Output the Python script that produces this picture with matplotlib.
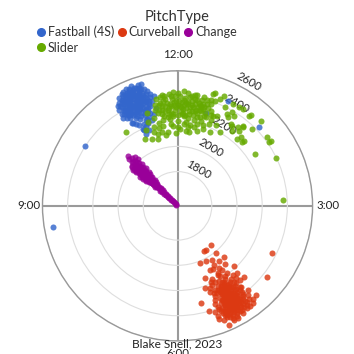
import numpy as np
import matplotlib
matplotlib.use("Agg")
import matplotlib.pyplot as plt
from matplotlib.lines import Line2D
from matplotlib.transforms import offset_copy

plt.rcParams['font.family'] = ['Lato', 'DejaVu Sans']

# ---------------- data (spin axis as clock hours, spin rate rpm) ----------------
pitch_types = ["Fastball (4S)", "Curveball", "Change", "Slider"]
pitch_colors = ["#3366cc", "#dc3912", "#990099", "#66aa00"]

ff_hour = [11.25, 11.10, 11.35, 11.20, 11.05, 11.40, 11.30, 11.15, 11.00, 11.45,
           11.28, 11.18, 11.38, 11.08, 11.22, 11.32, 11.12, 11.42, 11.02, 11.25,
           11.48, 10.97, 11.35, 11.20, 11.15, 11.30, 11.05, 11.50, 11.27, 11.12,
           11.40, 11.23, 10.95, 11.33, 11.45, 11.10, 11.18, 11.36, 11.28, 11.08,
           11.42, 11.20, 11.00, 11.52, 11.25, 11.15, 11.30, 11.45, 11.35, 11.05,
           11.22, 11.40, 11.12, 10.98, 11.55, 11.48, 11.32, 11.18, 11.27, 11.03,
           11.37, 11.13, 11.24, 11.44, 11.08, 11.30, 11.20, 11.50, 11.38, 11.16,
           11.33, 11.45, 11.28, 11.52, 11.40, 11.29, 10.93, 11.00, 11.58, 11.60,
           11.20, 11.34, 11.06, 11.26, 11.42, 11.14,
           11.03, 11.17, 11.31, 11.41, 11.11, 11.26, 11.36, 11.06, 11.21, 11.47,
           11.09, 11.23, 11.34, 11.19, 11.29, 11.39, 11.14, 11.04, 11.44, 11.27,
           11.16, 11.32, 11.12, 11.24, 11.37, 11.07, 11.47, 11.21, 11.01, 11.53,
           11.26, 11.18, 11.35, 11.10, 11.43, 11.29, 11.05, 11.33, 11.22, 11.39,
           11.15, 11.28, 11.48, 11.09, 11.36, 11.24, 11.42, 11.13, 11.31, 11.19,
           11.15, 11.25, 11.35, 11.20, 11.30, 11.10, 11.40, 11.05, 11.45, 11.22,
           10.10, 8.68, 1.53, 0.85, 0.57]
ff_spin = [2390, 2420, 2450, 2480, 2350, 2330, 2510, 2300, 2440, 2400,
           2360, 2450, 2480, 2480, 2420, 2420, 2380, 2360, 2400, 2530,
           2450, 2380, 2290, 2340, 2500, 2470, 2320, 2390, 2440, 2460,
           2510, 2370, 2420, 2380, 2430, 2350, 2400, 2350, 2320, 2440,
           2470, 2510, 2370, 2420, 2470, 2440, 2400, 2540, 2520, 2460,
           2280, 2300, 2330, 2450, 2380, 2350, 2460, 2360, 2500, 2430,
           2410, 2410, 2450, 2390, 2390, 2350, 2460, 2470, 2440, 2480,
           2250, 2240, 2210, 2280, 2540, 2550, 2350, 2330, 2320, 2420,
           2200, 2225, 2270, 2490, 2500, 2530,
           2390, 2430, 2440, 2420, 2500, 2410, 2470, 2410, 2390, 2410,
           2470, 2500, 2490, 2330, 2380, 2390, 2370, 2360, 2340, 2340,
           2420, 2530, 2520, 2360, 2330, 2340, 2490, 2540, 2470, 2440,
           2300, 2310, 2310, 2450, 2450, 2420, 2500, 2400, 2480, 2500,
           2460, 2480, 2370, 2360, 2430, 2520, 2320, 2390, 2370, 2470,
           2240, 2230, 2260, 2190, 2170, 2260, 2270, 2280, 2300, 2150,
           2400, 2530, 2424, 2450, 2300]

cu_hour = [5.00, 4.90, 5.10, 4.95, 5.05, 4.85, 5.15, 5.00, 4.92, 5.08,
           4.80, 5.20, 4.98, 5.12, 4.88, 5.03, 4.75, 5.25, 5.02, 4.96,
           5.06, 4.94, 5.10, 4.86, 5.18, 5.00, 4.82, 5.22, 5.04, 4.91,
           5.14, 4.99, 5.07, 4.78, 5.28, 5.02, 4.93, 5.16, 4.87, 5.09,
           4.97, 5.13, 4.84, 5.19, 4.72, 5.30, 5.05, 4.95, 5.01, 4.89,
           5.11, 5.24, 4.76, 5.32, 4.70, 5.00, 5.08, 4.92, 5.15, 4.83,
           5.21, 5.04, 4.97, 5.26, 4.80, 5.12, 4.90, 5.06, 4.74, 5.18,
           5.35, 4.68, 5.02, 4.95, 5.09, 4.88, 5.14, 4.99,
           5.01, 4.93, 5.07, 4.97, 5.03, 4.87, 5.13, 5.05, 4.91, 5.09,
           4.83, 5.17, 4.99, 5.11, 4.89, 5.04, 4.79, 5.23, 5.00, 4.95,
           5.08, 4.93, 5.12, 4.85, 5.16, 5.02, 4.81, 5.20, 5.06, 4.90,
           5.15, 4.98, 5.06, 4.77, 5.27, 5.03, 4.94, 5.14, 4.88, 5.10,
           4.96, 5.12, 4.86, 5.18, 4.96, 5.05, 4.92, 5.09, 5.00, 4.98,
           4.85, 4.95, 5.05, 5.15, 5.25, 4.78, 4.90, 5.00, 5.10, 5.20,
           4.88, 4.98, 5.08, 5.18, 4.82, 4.93, 5.03, 5.13, 5.28, 4.73,
           4.80, 5.12, 4.96, 5.22, 4.70, 5.15, 4.88, 5.02, 5.32, 4.66,
           5.23, 5.32, 4.74, 4.56, 5.38, 5.28, 3.89, 4.29, 4.63, 5.44, 5.55,
           4.64, 4.90, 4.98, 4.69, 4.59, 5.28, 5.09, 4.91, 4.77, 4.94,
           4.69, 4.56, 5.10, 4.84, 4.72, 5.30, 5.00, 4.85, 5.05, 4.95,
           5.20, 4.62, 4.80]
cu_spin = [2370, 2400, 2350, 2330, 2420, 2360, 2400, 2450, 2290, 2300,
           2410, 2370, 2500, 2470, 2460, 2260, 2340, 2430, 2400, 2380,
           2380, 2440, 2420, 2310, 2330, 2320, 2450, 2470, 2500, 2350,
           2360, 2410, 2450, 2380, 2390, 2340, 2480, 2500, 2420, 2280,
           2250, 2520, 2490, 2440, 2430, 2360, 2540, 2530, 2300, 2270,
           2310, 2300, 2300, 2460, 2480, 2480, 2340, 2390, 2450, 2330,
           2410, 2360, 2420, 2510, 2510, 2390, 2430, 2480, 2460, 2480,
           2420, 2400, 2440, 2360, 2400, 2380, 2430, 2460,
           2390, 2410, 2410, 2350, 2440, 2390, 2380, 2470, 2320, 2330,
           2430, 2420, 2460, 2500, 2490, 2290, 2360, 2450, 2420, 2360,
           2400, 2460, 2440, 2340, 2350, 2310, 2470, 2490, 2520, 2370,
           2380, 2430, 2460, 2400, 2410, 2350, 2500, 2480, 2440, 2300,
           2290, 2540, 2510, 2460, 2400, 2390, 2370, 2370, 2350, 2330,
           2260, 2240, 2250, 2270, 2280, 2280, 2220, 2230, 2240, 2260,
           2300, 2280, 2270, 2290, 2310, 2270, 2280, 2290, 2330, 2350,
           2190, 2200, 2150, 2210, 2260, 2170, 2120, 2100, 2260, 2300,
           2560, 2483, 2500, 2304, 2220, 2232, 2365, 2433, 2472, 2397, 2320,
           1939, 1947, 1946, 2014, 2080, 2018, 2024, 2040, 2079, 2083,
           2128, 2187, 2102, 2152, 2232, 2144, 2164, 2200, 2210, 2180,
           2190, 2240, 2250]

ch_hour = [10.45, 10.50, 10.40, 10.48, 10.55, 10.42, 10.38, 10.52, 10.46, 10.35,
           10.58, 10.44, 10.50, 10.40, 10.30, 10.55, 10.47, 10.36, 10.60, 10.43,
           10.52, 10.32, 10.48, 10.40, 10.57, 10.28, 10.45, 10.62, 10.36, 10.50,
           10.42, 10.55, 10.30, 10.47, 10.38, 10.60, 10.44, 10.33, 10.52, 10.40,
           10.56, 10.46, 10.35, 10.50, 10.42, 10.58, 10.38, 10.49,
           10.47, 10.62, 10.65, 10.49, 10.55,
           10.45, 10.50, 10.40, 10.48, 10.52, 10.44, 10.46, 10.41, 10.54, 10.49,
           10.43, 10.51, 10.39, 10.53, 10.45, 10.37, 10.57, 10.47, 10.34, 10.52,
           10.46, 10.42, 10.51, 10.39, 10.48, 10.44, 10.53, 10.41, 10.49, 10.37,
           10.55, 10.45, 10.40, 10.51, 10.44, 10.36, 10.54, 10.47, 10.42, 10.50,
           10.25, 10.68, 10.30, 10.65, 10.28, 10.60, 10.34, 10.55, 10.26, 10.66,
           10.32, 10.62, 10.36, 10.58, 10.40, 10.33, 10.63, 10.45, 10.38, 10.57]
ch_spin = [1560, 1580, 1600, 1620, 1640, 1650, 1670, 1680, 1700, 1710,
           1720, 1730, 1740, 1750, 1760, 1770, 1780, 1790, 1800, 1800,
           1810, 1820, 1830, 1840, 1840, 1850, 1850, 1860, 1870, 1870,
           1880, 1890, 1890, 1900, 1910, 1910, 1920, 1930, 1930, 1940,
           1950, 1960, 1960, 1980, 1990, 2000, 2010, 2020,
           2068, 2040, 2013, 2085, 2050,
           1540, 1545, 1570, 1590, 1610, 1630, 1660, 1690, 1700, 1715,
           1760, 1790, 1820, 1860, 1880, 1840, 1900, 1920, 1880, 1950,
           1650, 1720, 1760, 1780, 1810, 1830, 1850, 1860, 1880, 1900,
           1910, 1920, 1950, 1950, 1970, 1980, 1970, 1990, 1750, 1800,
           1900, 1920, 1950, 1960, 1980, 1990, 2000, 2020, 1870, 1880,
           1850, 1830, 1820, 1780, 1800, 1920, 1940, 2030, 1860, 1870]

sl_hour = [11.70, 11.80, 11.90, 0.00, 0.10, 0.20, 0.30, 0.40, 0.50, 11.75,
           11.85, 11.95, 0.05, 0.15, 0.25, 0.35, 0.45, 0.55, 11.65, 11.72,
           11.88, 0.02, 0.12, 0.22, 0.32, 0.42, 0.60, 11.60, 11.78, 11.92,
           0.08, 0.18, 0.28, 0.38, 0.48, 11.68, 11.82, 11.98, 0.14, 0.24,
           0.34, 0.44, 0.52, 11.55, 11.62, 11.76, 11.94, 0.06, 0.16, 0.26,
           0.36, 0.46, 0.58, 11.50, 11.58, 11.84, 0.00, 0.20, 0.30, 0.10,
           11.90, 11.70, 0.65, 0.70, 11.45, 11.40, 11.35, 11.42, 11.55, 11.65,
           11.76, 11.88, 0.05, 0.22, 0.40, 0.50, 0.62, 0.80, 1.00, 11.13,
           10.83, 11.25,
           11.73, 11.83, 11.93, 0.03, 0.13, 0.23, 0.33, 0.43, 0.53, 11.67,
           11.77, 11.87, 11.97, 0.07, 0.17, 0.27, 0.37, 0.47, 0.57, 11.63,
           11.79, 11.89, 0.01, 0.11, 0.21, 0.31, 0.41, 0.51, 11.71, 11.81,
           11.91, 0.04, 0.14, 0.24, 0.34, 0.44, 0.54, 11.74, 11.86, 11.96,
           0.09, 0.19, 0.29, 0.39, 0.49, 0.59, 11.69, 11.59, 0.66, 0.68,
           11.50, 11.70, 11.85, 0.00, 0.15, 0.30, 0.45, 11.60, 0.25, 11.95,
           0.58, 0.70, 0.85, 11.30, 11.45,
           0.62, 0.77, 0.96, 1.29, 1.48, 1.48, 1.32, 1.41, 1.75, 1.84,
           1.84, 1.87, 2.14, 2.89, 1.52, 1.25, 1.15, 0.99, 0.72, 0.59,
           0.86, 0.95, 1.01, 1.07, 1.06, 1.14, 1.30, 1.31, 1.31, 1.40,
           1.52, 0.73, 0.80, 1.10, 1.21]
sl_spin = [2400, 2350, 2380, 2330, 2300, 2360, 2320, 2280, 2340, 2290,
           2420, 2290, 2400, 2350, 2410, 2380, 2420, 2300, 2340, 2250,
           2320, 2250, 2270, 2230, 2260, 2350, 2380, 2280, 2380, 2430,
           2350, 2430, 2290, 2330, 2260, 2220, 2260, 2360, 2390, 2320,
           2420, 2390, 2230, 2310, 2390, 2330, 2330, 2310, 2250, 2370,
           2220, 2300, 2410, 2250, 2200, 2220, 2200, 2200, 2180, 2440,
           2260, 2300, 2330, 2260, 2180, 2300, 2230, 2140, 2160, 2170,
           2120, 2160, 2140, 2130, 2170, 2140, 2168, 2168, 2208, 2117,
           2240, 2180,
           2370, 2310, 2350, 2360, 2330, 2290, 2350, 2310, 2370, 2360,
           2410, 2270, 2310, 2280, 2310, 2340, 2300, 2360, 2340, 2300,
           2240, 2400, 2420, 2370, 2400, 2390, 2250, 2400, 2330, 2290,
           2240, 2320, 2240, 2260, 2290, 2340, 2270, 2420, 2340, 2400,
           2260, 2340, 2420, 2360, 2320, 2270, 2270, 2350, 2410, 2300,
           2120, 2100, 2180, 2150, 2180, 2120, 2200, 2130, 2160, 2110,
           2200, 2220, 2240, 2100, 2080,
           2472, 2476, 2450, 2440, 2470, 2378, 2340, 2272, 2421, 2428,
           2415, 2273, 2392, 2366, 2261, 2312, 2296, 2340, 2294, 2460,
           2400, 2357, 2390, 2367, 2448, 2458, 2453, 2344, 2293, 2239,
           2248, 2440, 2307, 2300, 2264]

r_ticks = [1800, 2000, 2200, 2400, 2600]
clock_labels = ["12:00", "3:00", "6:00", "9:00"]
clock_hours = [0, 3, 6, 9]
R_MIN, R_MAX = 1528, 2600

# ---------------- figure ----------------
fig = plt.figure(figsize=(3.54, 3.54), dpi=100)
ax = fig.add_axes([0.12, 0.037, 0.763, 0.763], projection='polar')
ax.set_theta_zero_location('N')
ax.set_theta_direction(-1)
ax.set_ylim(R_MIN, R_MAX)

def h2t(h):
    return np.deg2rad(np.asarray(h, dtype=float) * 30.0)

series = [(ff_hour, ff_spin), (cu_hour, cu_spin), (ch_hour, ch_spin), (sl_hour, sl_spin)]
for (hh, ss), col in zip(series, pitch_colors):
    ax.scatter(h2t(hh), ss, s=19, c=col, alpha=0.82, linewidths=0, zorder=3)

# radial grid
ax.set_yticks(r_ticks)
ax.set_yticklabels([])
ax.yaxis.grid(True, color='#dedede', lw=0.8)
for v in r_ticks:
    ax.text(np.deg2rad(30), v + 64, str(v), rotation=-30, rotation_mode='anchor',
            ha='center', va='center', fontsize=8.3, color='#222222', zorder=2,
            clip_on=False)

# angular grid with clock labels placed just outside the rim
ax.set_xticks(h2t(clock_hours))
ax.set_xticklabels([])
ax.xaxis.grid(True, color='#9a9a9a', lw=1.5)
ax.spines['polar'].set_color('#999999')
ax.spines['polar'].set_linewidth(1.0)
label_place = [(0, 11, 'center', 'bottom'), (4, 0, 'left', 'center'),
               (0, -7, 'center', 'top'), (-2, 0, 'right', 'center')]
for lab, hr, (dx, dy, ha, va) in zip(clock_labels, clock_hours, label_place):
    ax.text(float(h2t(hr)), R_MAX, lab, ha=ha, va=va, fontsize=8.3, color='#222222',
            clip_on=False,
            transform=offset_copy(ax.transData, fig=fig, x=dx, y=dy, units='dots'))

# legend
fig.text(0.5, 0.952, "PitchType", ha='center', va='center', fontsize=10.5, color='#333333')
handles = [Line2D([], [], marker='o', ls='', color=c, markersize=5.5) for c in pitch_colors]
order = [0, 3, 1, 2]
leg = fig.legend([handles[i] for i in order], [pitch_types[i] for i in order],
                 loc='upper left', bbox_to_anchor=(0.105, 0.927), ncol=3, frameon=False,
                 fontsize=9, handlelength=0.6, handletextpad=0.25, columnspacing=0.3,
                 labelspacing=0.25, borderpad=0, borderaxespad=0)
for t in leg.get_texts():
    t.set_color('#333333')

fig.text(0.5, 0.028, "Blake Snell, 2023", ha='center', va='center', fontsize=8.6, color='#222222')

fig.savefig("out.png", dpi=100)
